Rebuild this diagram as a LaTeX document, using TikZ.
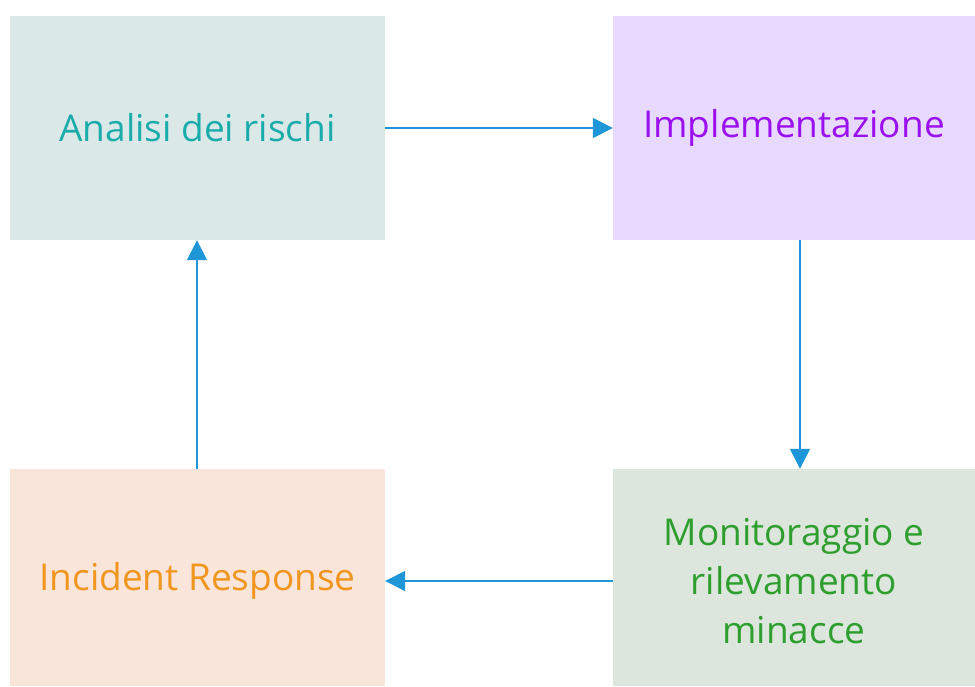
\documentclass[tikz,border=0pt]{standalone}
\usepackage{fontspec}
\setmainfont{Open Sans}
\usetikzlibrary{arrows.meta}
\definecolor{flowblue}{HTML}{1E96D8}
\definecolor{riskfill}{HTML}{DAE8E8}
\definecolor{risktext}{HTML}{1AABAB}
\definecolor{implfill}{HTML}{E7D9FF}
\definecolor{impltext}{HTML}{9A10EE}
\definecolor{monfill}{HTML}{DCE6DC}
\definecolor{montext}{HTML}{2E9E2E}
\definecolor{incfill}{HTML}{FAE5DA}
\definecolor{inctext}{HTML}{F0961E}
\tikzset{
  stage/.style={draw=none, inner sep=0pt, align=center,
    font=\fontsize{37}{49}\selectfont},
  caption/.style={inner sep=0pt, align=center,
    font=\fontsize{37}{49}\selectfont},
  flow/.style={draw=flowblue, line width=1.5pt,
    -{Triangle[length=20pt,width=20pt]}}
}
\begin{document}
\begin{tikzpicture}[x=1pt,y=-1pt]
\useasboundingbox (0,0) rectangle (975,686);
\node[stage, fill=riskfill, text=risktext, minimum width=375pt, minimum height=224pt]
  (risk) at (197.5,128) {Analisi dei rischi};
\node[stage, fill=implfill, text=impltext, minimum width=362pt, minimum height=224pt]
  (impl) at (794,128) {Implementazione};
\node[stage, fill=monfill, minimum width=362pt, minimum height=217pt]
  (mon) at (794,577.5) {};
\node[caption, text=montext] (montxt) at (794,581) {Monitoraggio e\\rilevamento\\minacce};
\node[stage, fill=incfill, minimum width=375pt, minimum height=217pt]
  (inc) at (197.5,577.5) {};
\node[caption, text=inctext] (inctxt) at (197.5,581) {Incident Response};
\draw[flow] (risk.east) -- (impl.west);
\draw[flow] (impl.south -| 800,0) -- (mon.north -| 800,0);
\draw[flow] (mon.west |- 0,581) -- (inc.east |- 0,581);
\draw[flow] (inc.north -| 197,0) -- (risk.south -| 197,0);
\end{tikzpicture}
\end{document}
